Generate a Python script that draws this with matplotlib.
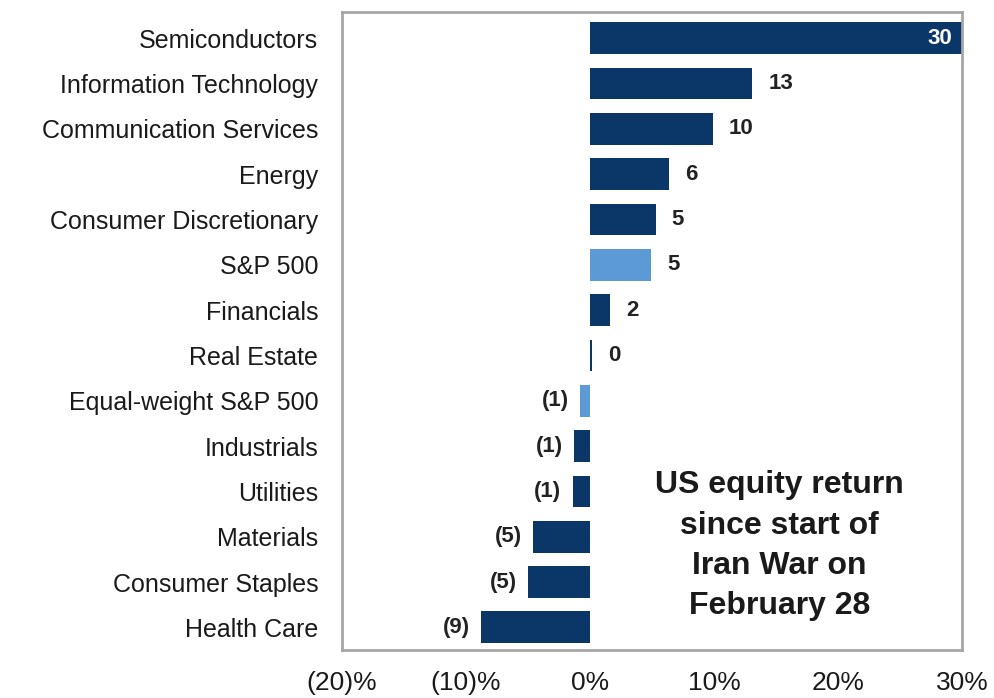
import matplotlib.pyplot as plt

plt.rcParams['font.family'] = ['Liberation Sans', 'DejaVu Sans']

# Sector returns (%) since the start of the war
sectors = ["Semiconductors", "Information Technology", "Communication Services",
           "Energy", "Consumer Discretionary", "S&P 500", "Financials",
           "Real Estate", "Equal-weight S&P 500", "Industrials", "Utilities",
           "Materials", "Consumer Staples", "Health Care"]
returns = [30.0, 13.1, 9.9, 6.4, 5.3, 4.9, 1.6, 0.2, -0.8, -1.3, -1.4,
           -4.6, -5.0, -8.8]
index_rows = ["S&P 500", "Equal-weight S&P 500"]

x_ticks = [-20, -10, 0, 10, 20, 30]
x_tick_labels = ["(20)%", "(10)%", "0%", "10%", "20%", "30%"]

navy = "#0a3767"
light = "#5c9ad6"

fig = plt.figure(figsize=(9.95, 6.98), dpi=100)
ax = fig.add_axes([0.3437, 0.0688, 0.6231, 0.914])

ypos = list(range(len(sectors)))
colors = [light if s in index_rows else navy for s in sectors]
ax.barh(ypos, returns, height=0.7, color=colors, zorder=2)

ax.set_ylim(len(sectors) - 0.5, -0.58)
ax.set_xlim(-20, 30)
ax.set_yticks(ypos)
ax.set_yticklabels(sectors, fontsize=18, color='#1a1a1a')
ax.set_xticks(x_ticks)
ax.set_xticklabels(x_tick_labels, fontsize=19, color='#1a1a1a')
ax.tick_params(axis='both', length=0)
ax.tick_params(axis='y', pad=17)
ax.tick_params(axis='x', pad=15)

for spine in ax.spines.values():
    spine.set_color("#a6a6a6")
    spine.set_linewidth(2)

# Value labels, negatives in parentheses
for y, v in zip(ypos, returns):
    r = round(v)
    txt = f"({abs(r)})" if r < 0 else f"{r}"
    if v >= 29:
        ax.text(v - 0.8, y, txt, ha='right', va='center', color='white',
                fontsize=16, fontweight='bold')
    elif v >= 0:
        ax.text(v + 1.3, y, txt, ha='left', va='center', color='#222222',
                fontsize=16, fontweight='bold')
    else:
        ax.text(v - 0.9, y, txt, ha='right', va='center', color='#222222',
                fontsize=16, fontweight='bold')

ax.text(15.3, 11.2, "US equity return\nsince start of\nIran War on\nFebruary 28",
        ha='center', va='center', fontsize=23, fontweight='bold',
        color='#1a1a1a', linespacing=1.45)

fig.savefig("out.png", dpi=100)
